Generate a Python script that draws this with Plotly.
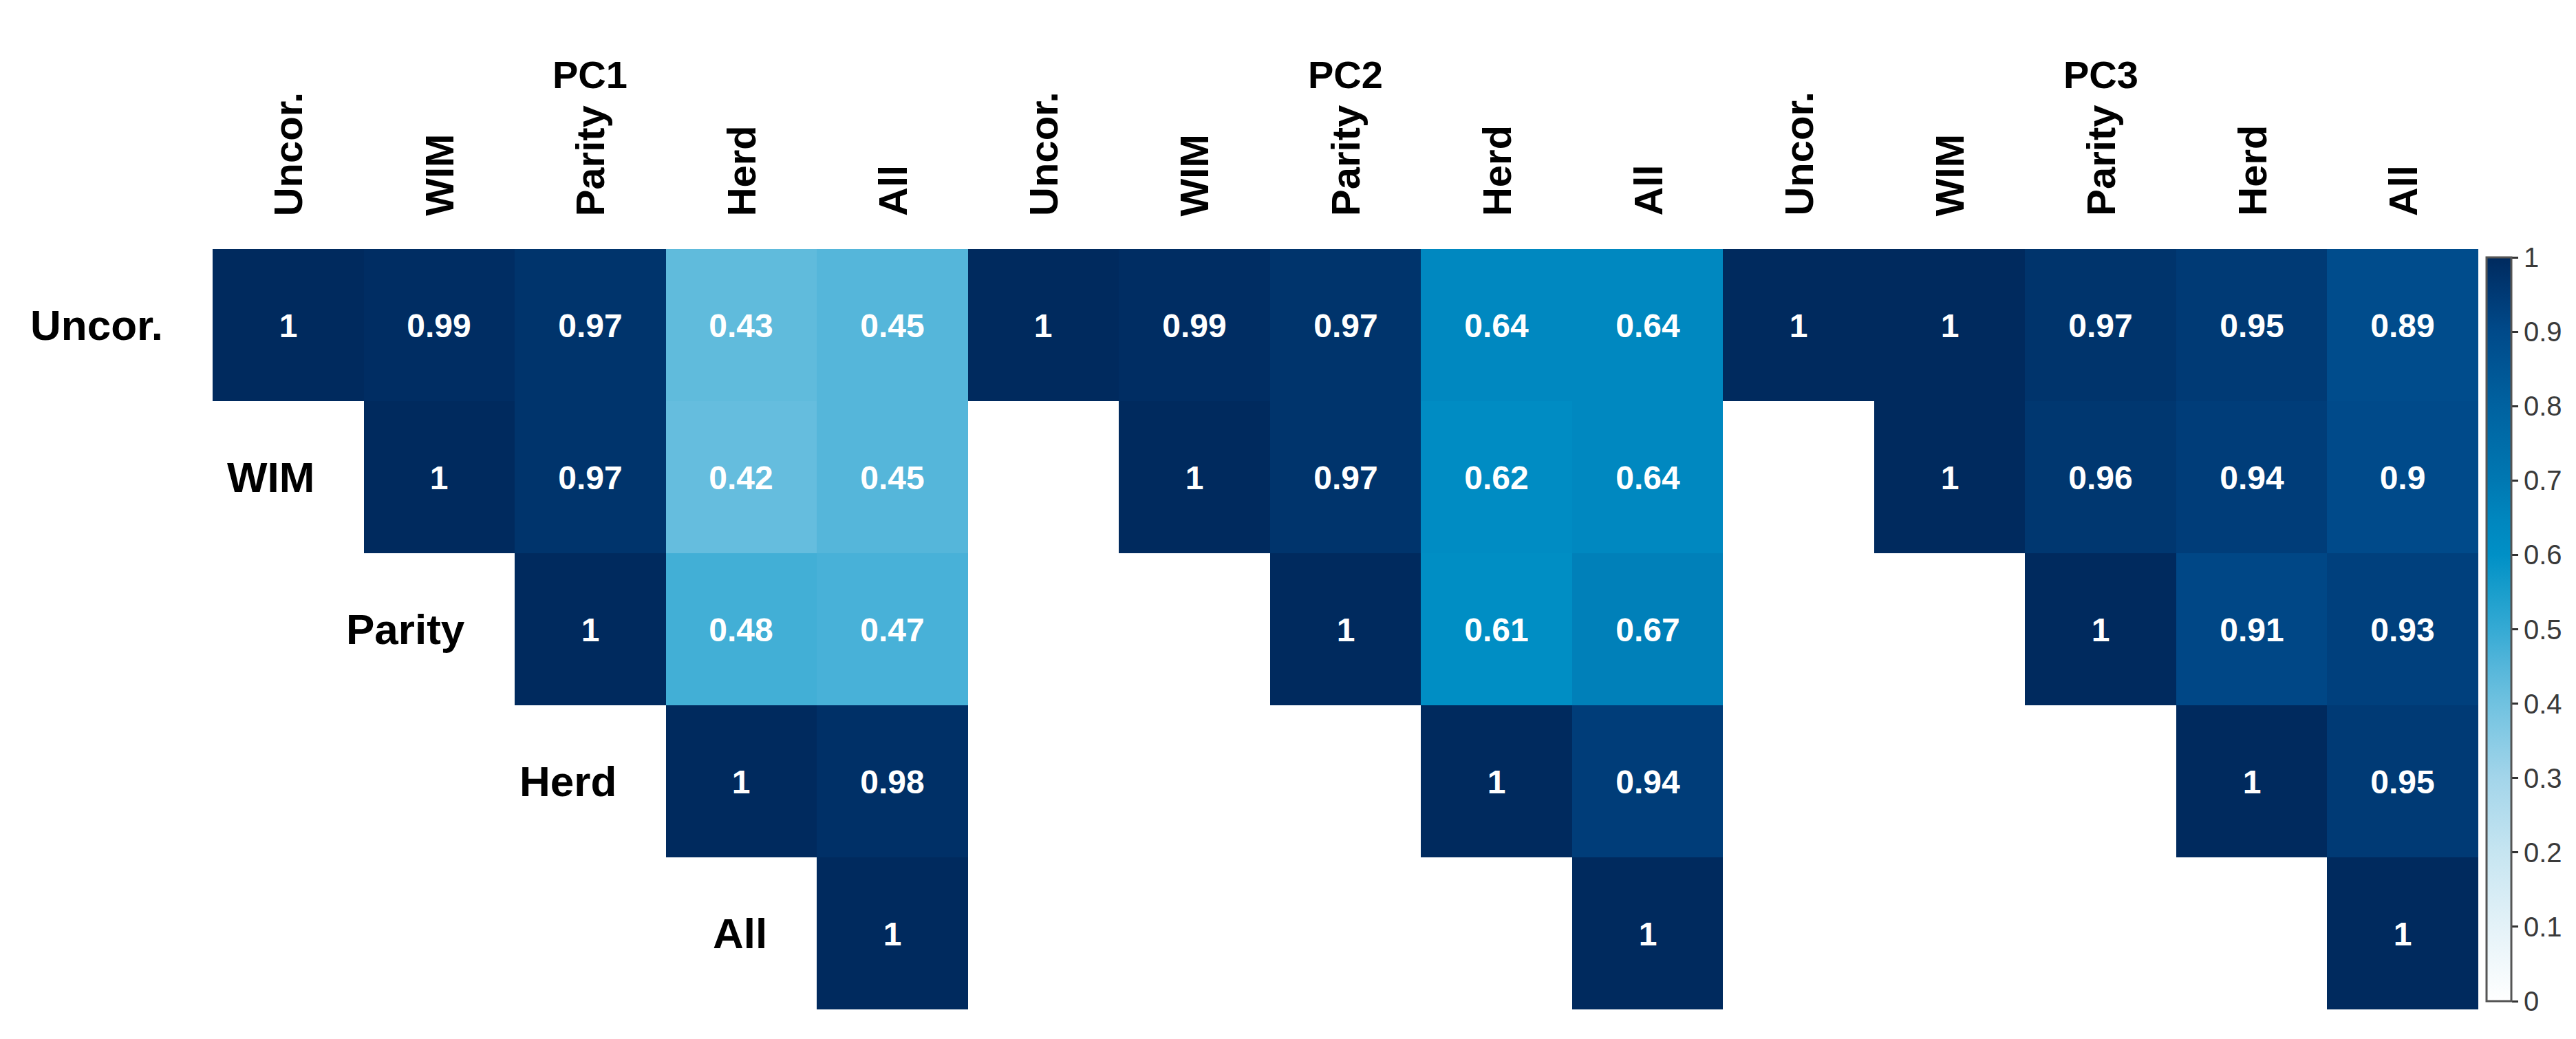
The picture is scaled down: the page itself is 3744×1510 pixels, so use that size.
import plotly.graph_objects as go

labels = ["Uncor.", "WIM", "Parity", "Herd", "All"]
panels = ["PC1", "PC2", "PC3"]

pc1 = [
    [1, 0.99, 0.97, 0.43, 0.45],
    [None, 1, 0.97, 0.42, 0.45],
    [None, None, 1, 0.48, 0.47],
    [None, None, None, 1, 0.98],
    [None, None, None, None, 1],
]
pc2 = [
    [1, 0.99, 0.97, 0.64, 0.64],
    [None, 1, 0.97, 0.62, 0.64],
    [None, None, 1, 0.61, 0.67],
    [None, None, None, 1, 0.94],
    [None, None, None, None, 1],
]
pc3 = [
    [1, 1, 0.97, 0.95, 0.89],
    [None, 1, 0.96, 0.94, 0.9],
    [None, None, 1, 0.91, 0.93],
    [None, None, None, 1, 0.95],
    [None, None, None, None, 1],
]

cbar_ticks = [0, 0.1, 0.2, 0.3, 0.4, 0.5, 0.6, 0.7, 0.8, 0.9, 1]
cbar_ticktext = ["0", "0.1", "0.2", "0.3", "0.4", "0.5", "0.6", "0.7", "0.8", "0.9", "1"]

mats = [pc1, pc2, pc3]
n = len(labels)

# combine the three matrices side by side
z = []
txt = []
for r in range(n):
    row = []
    trow = []
    for m in mats:
        for c in range(n):
            v = m[r][c]
            row.append(v)
            trow.append("" if v is None else f"{v:g}")
    z.append(row)
    txt.append(trow)

xs = list(range(n * len(mats)))
ys = list(range(n))

colorscale = [
    [0.0, "#ffffff"], [0.1, "#e4f2f8"], [0.2, "#c6e5f1"], [0.3, "#a3d5ea"],
    [0.4, "#70c2e0"], [0.45, "#55b6da"], [0.5, "#35aad4"], [0.55, "#1a9ecc"],
    [0.6, "#0090c6"], [0.65, "#0086be"], [0.7, "#0078b2"], [0.8, "#0062a0"],
    [0.9, "#004a8a"], [0.95, "#003a75"], [1.0, "#002a5e"],
]

fig = go.Figure()
fig.add_trace(go.Heatmap(
    z=z, x=xs, y=ys, text=txt, texttemplate="%{text}",
    textfont=dict(family="Arial", size=48, color="white", weight="bold"),
    colorscale=colorscale, zmin=0, zmax=1, hoverongaps=False,
    colorbar=dict(
        x=1.0035, xanchor="left", xpad=0, y=0.5, yanchor="middle",
        len=1101, lenmode="pixels", thickness=36, thicknessmode="pixels",
        outlinewidth=3, outlinecolor="#555555",
        tickvals=cbar_ticks, ticktext=cbar_ticktext,
        ticks="outside", ticklen=9, tickwidth=3, tickcolor="#333333",
        tickfont=dict(family="Arial", size=40, color="#3a3a3a"),
    ),
))

annotations = []
for p, name in enumerate(panels):
    annotations.append(dict(
        x=p * n + (n - 1) / 2, y=1, xref="x", yref="paper",
        text=name, showarrow=False, yanchor="middle", yshift=254,
        font=dict(family="Arial", size=56, color="black", weight="bold"),
    ))
    for c, lab in enumerate(labels):
        annotations.append(dict(
            x=p * n + c, y=1, xref="x", yref="paper", text=lab,
            showarrow=False, textangle=-90, xanchor="center", yanchor="bottom",
            yshift=46,
            font=dict(family="Arial", size=58, color="black", weight="bold"),
        ))

for r, lab in enumerate(labels):
    annotations.append(dict(
        x=r - 0.5, y=r, xref="x", yref="y", text=lab, showarrow=False,
        xanchor="right", yanchor="middle", xshift=-70,
        font=dict(family="Arial", size=62, color="black", weight="bold"),
    ))

fig.update_layout(
    width=3744, height=1510,
    margin=dict(l=301, r=150, t=354, b=51),
    paper_bgcolor="white", plot_bgcolor="white",
    xaxis=dict(range=[-0.5, len(xs) - 0.5], visible=False, fixedrange=True),
    yaxis=dict(range=[n - 0.5, -0.5], visible=False, fixedrange=True),
    annotations=annotations,
    showlegend=False,
)

fig.write_html("out.html")
